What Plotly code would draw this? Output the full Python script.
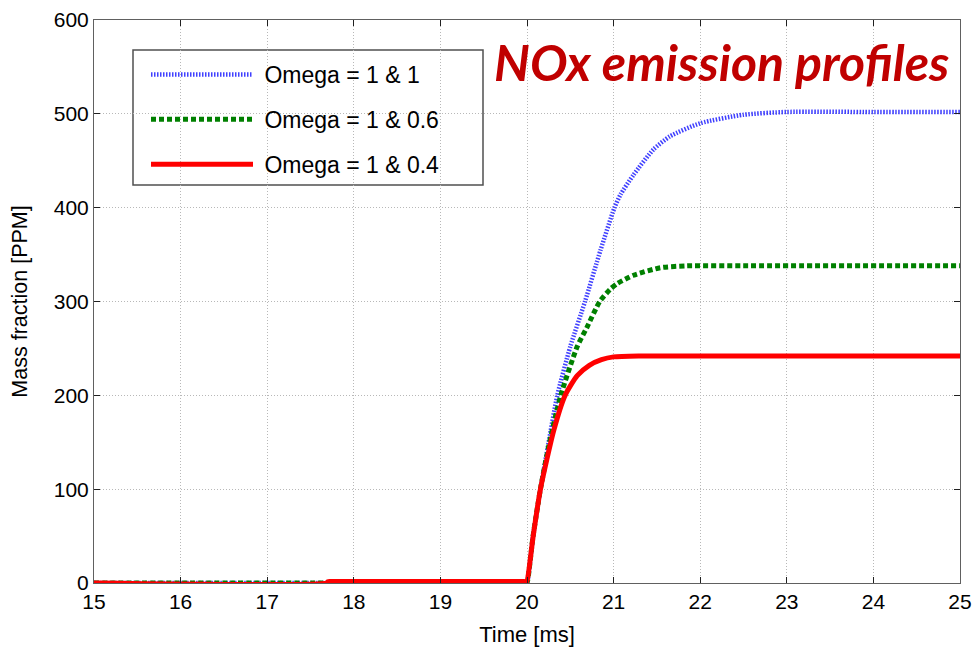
import plotly.graph_objects as go

# ---- data ----
blue_t = [15, 19.99, 20.0, 20.07, 20.155, 20.25, 20.35, 20.5, 20.67, 20.85, 21.01, 21.08, 21.23, 21.46, 21.65, 22.0, 22.5, 23.0, 24.0, 25.0]
blue_v = [0, 0, 0, 50, 100, 150, 200, 252, 300, 355, 400, 414, 435, 462, 476, 490, 499, 502, 502, 502]

green_t = [15, 19.99, 20.0, 20.07, 20.155, 20.26, 20.39, 20.58, 20.69, 20.84, 20.96, 21.04, 21.23, 21.54, 21.85, 22.5, 25.0]
green_v = [0, 0, 0, 50, 100, 150, 200, 252, 272, 300, 313, 319, 328, 336, 338, 338, 338]

red_t = [15, 17.69, 17.7, 17.75, 19.95, 19.99, 20.0, 20.07, 20.155, 20.31, 20.44, 20.58, 20.72, 20.86, 21.0, 21.3, 25.0]
red_v = [0, 0, 1.5, 1.5, 1.5, 1.5, 2, 49, 100, 163, 200, 221, 232, 238, 241, 242, 242]

names = ["Omega = 1 & 1", "Omega = 1 & 0.6", "Omega = 1 & 0.4"]
x_ticks = [15, 16, 17, 18, 19, 20, 21, 22, 23, 24, 25]
y_ticks = [0, 100, 200, 300, 400, 500, 600]

NB = "\u00a0"
fig = go.Figure()
fig.add_trace(go.Scatter(x=blue_t, y=blue_v, mode="lines", name=NB + names[0], legendgroup="a",
                         line=dict(color="#4040ff", width=4.5, dash="1.5px,1.5px", shape="spline", smoothing=0.6)))
fig.add_trace(go.Scatter(x=green_t, y=green_v, mode="lines", name=NB + names[1], legendgroup="b",
                         line=dict(color="#008000", width=5, dash="5px,3px", shape="spline", smoothing=0.6)))
fig.add_trace(go.Scatter(x=red_t, y=red_v, mode="lines", name=NB + names[2], legendgroup="c",
                         line=dict(color="#ff0000", width=5, shape="spline", smoothing=0.6)))

FONT = "Liberation Sans, Arial"
axis_common = dict(
    showline=True, linecolor="#606060", linewidth=1, mirror="ticks",
    ticks="inside", ticklen=6, tickcolor="#202020",
    showgrid=True, gridcolor="#b8b8b8", griddash="1px,2px", gridwidth=1,
    zeroline=False, automargin=False,
    tickfont=dict(family=FONT, size=21, color="#000"),
)

# plot area in pixels: x 94..960, y 20..583
L, R, T, B = 94, 12, 20, 67
PW, PH = 972 - L - R, 650 - T - B

def px_x(p):
    return (p - L) / PW

def px_y(p):
    return (650 - B - p) / PH

fig.update_layout(
    width=972, height=650,
    margin=dict(l=L, r=R, t=T, b=B),
    paper_bgcolor="white", plot_bgcolor="white",
    xaxis=dict(range=[15, 25], tickvals=x_ticks, title=dict(text="Time [ms]", standoff=14,
               font=dict(family=FONT, size=22, color="#000")), **axis_common),
    yaxis=dict(range=[0, 600], tickvals=y_ticks, title=dict(text="Mass fraction [PPM]", standoff=20,
               font=dict(family=FONT, size=21.5, color="#000")), **axis_common),
    legend=dict(x=px_x(146), y=px_y(53), xanchor="left", yanchor="top",
                bgcolor="rgba(0,0,0,0)", borderwidth=0,
                font=dict(family=FONT, size=23, color="#000"),
                itemwidth=102, tracegroupgap=12, traceorder="grouped"),
    showlegend=True,
)

# legend frame
fig.add_shape(type="rect", xref="paper", yref="paper",
              x0=px_x(133), x1=px_x(483), y0=px_y(185), y1=px_y(50),
              line=dict(color="#505050", width=1.5), fillcolor="white", layer="below")

fig.add_annotation(
    text="<b><i>NOx emission profiles</i></b>", xref="paper", yref="paper",
    x=px_x(951), y=px_y(62), xanchor="right", yanchor="middle", showarrow=False,
    font=dict(family="Lato, Open Sans", size=50, color="#c00000"),
)

fig.write_html("out.html")
